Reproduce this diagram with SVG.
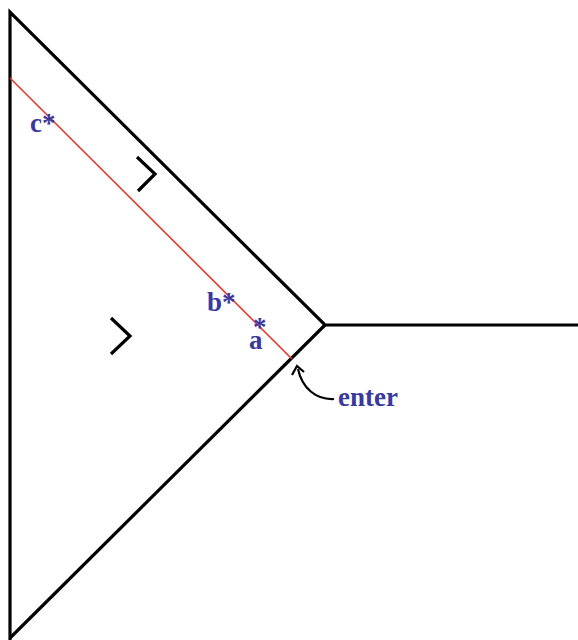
<svg xmlns="http://www.w3.org/2000/svg" width="578" height="640" viewBox="0 0 578 640">
<style>
.edge{stroke:#000;stroke-width:3.2;fill:none;stroke-linecap:butt}
.mark{stroke:#000;stroke-width:3.2;fill:none;stroke-linejoin:miter}
.lbl{font-family:"Liberation Serif",serif;font-weight:bold;font-size:27px;fill:#3a3a9e}
</style>
<rect width="578" height="640" fill="#fff"/>
<g id="connectors">
<path class="edge" d="M10 640 V12 L325 325 H578"/>
<path class="edge" d="M325 325 L10 638"/>
<line x1="10" y1="78" x2="292" y2="359" stroke="#e03a2e" stroke-width="1.6"/>
<path d="M334 399 C316 400 302 388 298 369" stroke="#000" stroke-width="2.2" fill="none"/>
<path d="M292 375 L297 366 L304 372" stroke="#000" stroke-width="2.2" fill="none"/>
</g>
<g id="mark1"><path class="mark" d="M137 157 L155 174 L138 191"/></g>
<g id="mark2"><path class="mark" d="M111 318 L130 336 L111 354"/></g>
<g id="label-c"><text class="lbl" x="30" y="132">c*</text></g>
<g id="label-b"><text class="lbl" x="207" y="311">b*</text></g>
<g id="label-a"><text class="lbl" x="249" y="349">a</text><text class="lbl" x="253" y="336" font-size="20">*</text></g>
<g id="label-enter"><text class="lbl" x="338" y="406">enter</text></g>
</svg>
